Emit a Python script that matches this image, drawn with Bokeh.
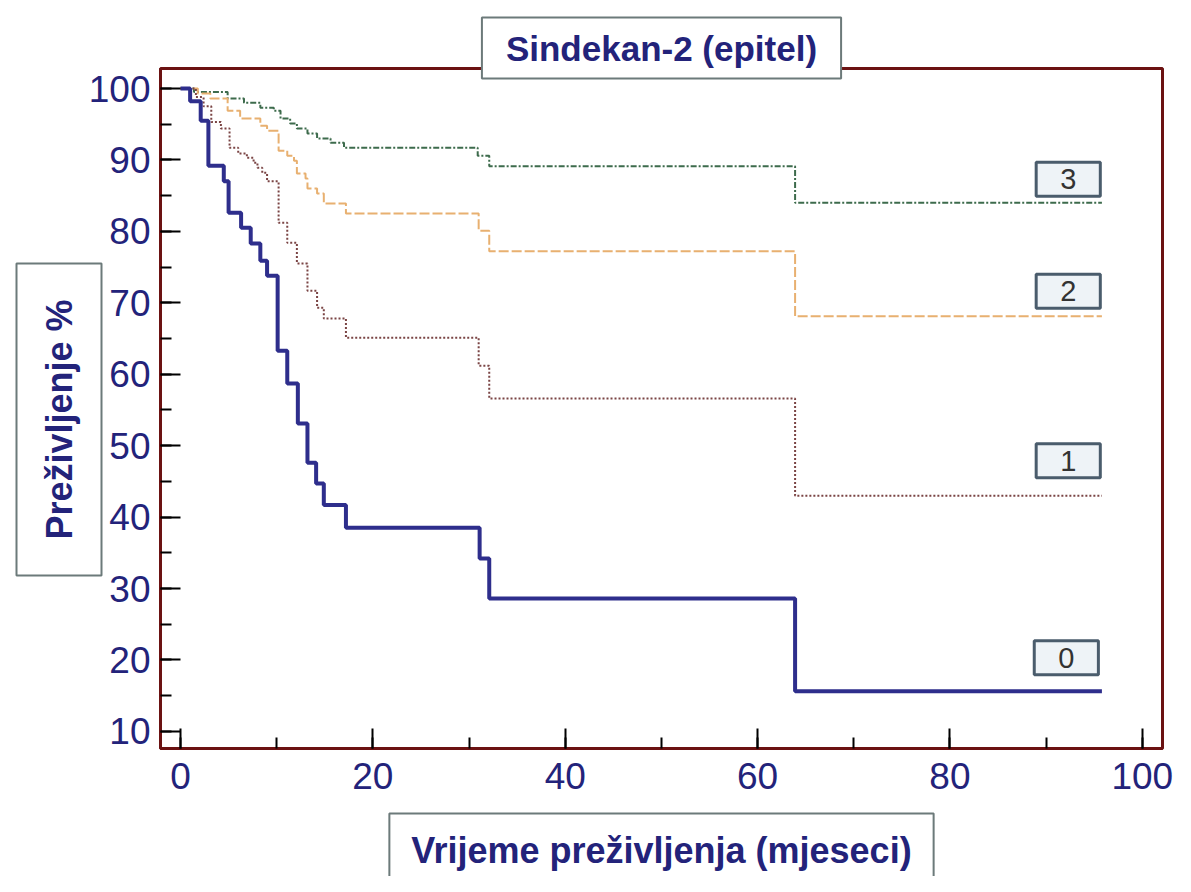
from bokeh.plotting import figure
from bokeh.models import Range1d, SingleIntervalTicker, Label, Title
from bokeh.embed import file_html
from bokeh.resources import INLINE

# ---- data ----
title_text = "Sindekan-2 (epitel)"
x_title = "Vrijeme preživljenja (mjeseci)"
y_title = "Preživljenje %"

group_names = ["0", "1", "2", "3"]

t0 = [0, 1.0, 2.1, 2.9, 4.5, 5.0, 6.3, 7.3, 8.3, 9.0, 10.1, 11.1, 12.2, 13.2, 14.1, 14.9, 17.2, 31.1, 32.1, 63.9, 95.8]
s0 = [100, 98.2, 95.5, 89.2, 87.0, 82.6, 80.5, 78.3, 75.9, 73.8, 63.3, 58.7, 53.1, 47.6, 44.7, 41.7, 38.5, 34.2, 28.6, 15.6, 15.6]

t1 = [0, 1.6, 2.4, 3.2, 4.2, 5.1, 6.0, 6.9, 7.6, 8.0, 8.5, 9.0, 10.2, 11.1, 12.1, 13.2, 14.2, 14.9, 17.2, 31.0, 32.1, 63.9, 95.8]
s1 = [100, 98.8, 97.5, 95.3, 94.4, 91.7, 90.9, 90.3, 89.6, 88.9, 88.2, 87.0, 81.2, 78.4, 75.5, 71.7, 69.3, 67.8, 65.1, 61.2, 56.6, 43.0, 43.0]

t2 = [0, 1.8, 3.1, 4.9, 6.2, 8.3, 9.0, 10.2, 11.1, 11.8, 12.1, 13.0, 13.2, 14.2, 14.9, 17.2, 31.0, 32.1, 63.9, 95.8]
s2 = [100, 99.3, 98.6, 96.9, 95.8, 94.8, 94.1, 91.3, 90.6, 89.9, 88.1, 87.4, 86.0, 85.3, 83.9, 82.5, 80.1, 77.2, 68.1, 68.1]

t3 = [0, 1.4, 4.9, 6.6, 8.3, 9.7, 10.4, 11.4, 12.1, 13.2, 14.2, 15.6, 17.0, 30.9, 32.1, 63.9, 95.8]
s3 = [100, 99.5, 98.6, 98.0, 97.3, 96.9, 95.8, 95.1, 94.4, 93.7, 93.0, 92.4, 91.7, 90.6, 89.1, 84.0, 84.0]

# group tag positions (data units)
tag_x = [92.1, 92.3, 92.3, 92.3]
tag_y = [20.3, 47.9, 71.6, 87.3]

# ---- styles ----
NAVY = "#23237a"
MAROON = "#6b1212"
BOXLINE = "#6c7a7a"
FONT = "Liberation Sans"

p = figure(width=1175, height=876,
           x_range=Range1d(-2.08, 102.1), y_range=Range1d(7.6, 102.8),
           output_backend="svg", toolbar_location=None,
           min_border_left=160, min_border_right=13,
           min_border_top=68, min_border_bottom=128)

p.grid.visible = False
p.background_fill_color = "white"
p.border_fill_color = "white"
p.outline_line_color = MAROON
p.outline_line_width = 3

p.xaxis.ticker = SingleIntervalTicker(interval=20, num_minor_ticks=2)
p.yaxis.ticker = SingleIntervalTicker(interval=10, num_minor_ticks=2)
for ax in (p.xaxis[0], p.yaxis[0]):
    ax.axis_line_color = MAROON
    ax.axis_line_width = 3
    ax.major_tick_in = 20
    ax.major_tick_out = 0
    ax.minor_tick_in = 11
    ax.minor_tick_out = 0
    ax.major_tick_line_color = "black"
    ax.major_tick_line_width = 2
    ax.minor_tick_line_color = "black"
    ax.minor_tick_line_width = 2
    ax.major_label_text_font = FONT
    ax.major_label_text_font_size = "37px"
    ax.major_label_text_color = NAVY
p.xaxis.major_label_standoff = 14
p.yaxis.major_label_standoff = 10
# blank spacer label so the boxed axis title sits lower
p.xaxis.axis_label = " "
p.xaxis.axis_label_text_font_size = "10px"
p.xaxis.axis_label_standoff = 16

# ---- curves ----
p.step(t3, s3, mode="after", line_color="#3d6b4c", line_width=2, line_dash="6 2 2 2")
p.step(t2, s2, mode="after", line_color="#e8b070", line_width=2, line_dash="10 3")
p.step(t1, s1, mode="after", line_color="#7a4444", line_width=2, line_dash="2 2")
p.step(t0, s0, mode="after", line_color="#2e2e8c", line_width=4)

# ---- group tags ----
for name, gx, gy in zip(group_names, tag_x, tag_y):
    p.add_layout(Label(x=gx, y=gy, text=name, text_align="center", text_baseline="middle",
                       text_font=FONT, text_font_size="29px", text_color="#333333",
                       background_fill_color="#eef3f7", border_line_color="#4a5c6c",
                       border_line_width=3, padding=(24, 7)))

# ---- title / axis title boxes ----
p.title.text = title_text
p.title.align = "center"
p.title.vertical_align = "bottom"
p.title.standoff = -20
p.title.text_font = FONT
p.title.text_font_size = "35px"
p.title.text_font_style = "bold"
p.title.text_color = NAVY
p.title.background_fill_color = "white"
p.title.border_line_color = BOXLINE
p.title.border_line_width = 2
p.title.padding = (24, 11)

xt = Title(text=x_title, align="center", text_font=FONT, text_font_size="36px",
           text_font_style="bold", text_color=NAVY, background_fill_color="white",
           border_line_color=BOXLINE, border_line_width=2, padding=(22, 16), standoff=-20)
p.add_layout(xt, "below")

yt = Title(text=y_title, align="left", offset=173, text_font=FONT, text_font_size="36px",
           text_font_style="bold", text_color=NAVY, background_fill_color="white",
           border_line_color=BOXLINE, border_line_width=2, padding=(36, 22), standoff=-32)
p.add_layout(yt, "left")

open("out.html", "w").write(file_html(p, INLINE))
